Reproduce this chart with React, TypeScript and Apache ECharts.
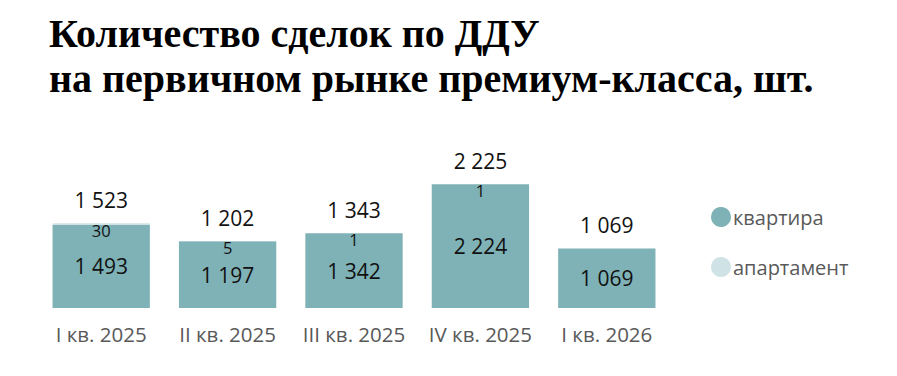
import React, { useEffect, useRef } from "react";
import * as echarts from "echarts";

const categories = ["I кв. 2025", "II кв. 2025", "III кв. 2025", "IV кв. 2025", "I кв. 2026"];
const apartments = [1493, 1197, 1342, 2224, 1069];
const aparthotels = [30, 5, 1, 1, 0];
const totals = [1523, 1202, 1343, 2225, 1069];
const seriesNames = ["квартира", "апартамент"];

const fmt = (v: number) => String(v).replace(/\B(?=(\d{3})+(?!\d))/g, " ");

export default function App() {
  const ref = useRef<HTMLDivElement>(null);
  useEffect(() => {
    document.body.style.margin = "0";
    const chart = echarts.init(ref.current!, null, { renderer: "svg" });
    const numFont = "Open Sans";
    chart.setOption({
      animation: false,
      backgroundColor: "#ffffff",
      title: {
        text: "Количество сделок по ДДУ\nна первичном рынке премиум-класса, шт.",
        left: 49,
        top: 11,
        padding: 0,
        textStyle: {
          fontFamily: "Liberation Serif",
          fontWeight: "bold",
          fontSize: 40,
          lineHeight: 45,
          color: "#000000",
        },
      },
      legend: {
        orient: "vertical",
        left: 706,
        top: 202,
        icon: "circle",
        itemWidth: 20,
        itemHeight: 20,
        itemGap: 30,
        textStyle: { fontFamily: numFont, fontSize: 20, color: "#595959", lineHeight: 20, padding: [0, 0, 0, -3] },
        data: seriesNames,
      },
      grid: { left: 38, right: 227, top: 141, bottom: 68 },
      xAxis: {
        type: "category",
        data: categories,
        axisLine: { show: false },
        axisTick: { show: false },
        axisLabel: { interval: 0, fontFamily: numFont, fontSize: 20.5, color: "#595959", margin: 15 },
      },
      yAxis: { type: "value", min: 0, max: 3000, show: false },
      series: [
        {
          name: seriesNames[0],
          type: "bar",
          stack: "s",
          data: apartments,
          barCategoryGap: "23%",
          itemStyle: { color: "#7fb2b7" },
          label: {
            show: true,
            position: "inside",
            fontFamily: numFont,
            fontSize: 21,
            color: "#111111",
            formatter: (p: any) => fmt(p.value),
          },
        },
        {
          name: seriesNames[1],
          type: "bar",
          stack: "s",
          data: aparthotels,
          itemStyle: { color: "#cfe2e5" },
          label: {
            show: true,
            position: "inside",
            offset: [0, 6],
            fontFamily: numFont,
            fontSize: 16.5,
            color: "#111111",
            formatter: (p: any) => (p.value ? fmt(p.value) : ""),
          },
        },
        {
          name: "total",
          type: "scatter",
          data: totals,
          symbolSize: 0,
          silent: true,
          itemStyle: { opacity: 1 },
          label: {
            show: true,
            position: "top",
            distance: 13,
            fontFamily: numFont,
            fontSize: 21,
            color: "#111111",
            formatter: (p: any) => fmt(p.value),
          },
        },
      ],
    });
    return () => chart.dispose();
  }, []);
  return <div ref={ref} style={{ width: 897, height: 376 }} />;
}
